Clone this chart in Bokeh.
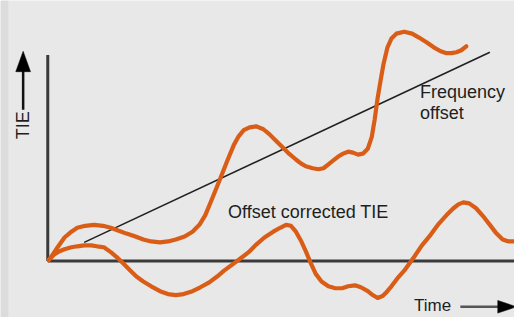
from bokeh.plotting import figure
from bokeh.models import Range1d, Label, BoxAnnotation
from bokeh.embed import file_html
from bokeh.resources import INLINE

# --- data (time units, TIE units) ---
tie_raw_t = [1, 4, 10, 17, 24, 30, 38, 47, 56, 64, 72, 80, 89, 97, 105, 114, 122, 130, 139, 147,
             154, 160, 167, 175, 182, 189, 194, 199, 205, 212, 219, 225, 232, 239, 245, 252, 257,
             262, 269, 275, 280, 285, 290, 295, 300, 305, 310, 315, 320, 325, 329, 332, 335, 338,
             341, 345, 349, 354, 362, 370, 377, 385, 392, 399, 405, 410, 415, 420, 425]
tie_raw_v = [1, 5, 14, 24, 30, 34, 36, 37, 36, 34, 31, 28, 25, 22, 20, 19, 20, 22, 25, 30,
             37, 47, 64, 84, 102, 119, 128, 134, 137, 138, 135, 130, 123, 116, 110, 104, 100,
             97, 95, 94, 95, 99, 103, 107, 110, 112, 111, 109, 110, 115, 127, 145, 167, 185,
             202, 219, 228, 233, 235, 233, 229, 224, 219, 215, 213, 213, 214, 216, 220]

tie_corr_t = [1, 7, 12, 17, 24, 30, 37, 44, 50, 57, 64, 70, 77, 84, 90, 97, 105, 114, 122, 130,
              138, 147, 155, 164, 172, 179, 187, 195, 204, 212, 220, 229, 236, 242, 247, 252, 257,
              262, 267, 272, 278, 285, 292, 299, 305, 312, 318, 325, 330, 335, 340, 344, 349, 355,
              362, 372, 380, 389, 397, 405, 412, 417, 422, 428, 435, 442, 449, 455, 462, 468, 474, 484]
tie_corr_v = [1, 7, 10, 12, 14, 15, 16, 16, 15, 14, 9, 4, -3, -10, -16, -21, -26, -31, -34, -35,
              -34, -31, -27, -22, -16, -10, -4, 2, 9, 17, 24, 30, 34, 37, 36, 30, 21,
              10, -2, -13, -21, -26, -28, -28, -26, -25, -27, -31, -35, -38, -36, -32, -26, -18,
              -10, 4, 16, 27, 38, 47, 54, 58, 60, 59, 54, 46, 37, 29, 22, 20, 20, 20]

freq_t = [37, 449]
freq_v = [19, 214]

ORANGE = "#d95d16"
AXIS = "#3a3a3a"
TXT = "#1e1e1e"
FONT = "Liberation Sans"
FS = "18px"

p = figure(width=514, height=317, output_backend="svg", toolbar_location=None,
           x_range=Range1d(-48, 474), y_range=Range1d(-58, 267),
           min_border=0, background_fill_color="#e8e8e8", border_fill_color="#e8e8e8",
           outline_line_color=None)
p.axis.visible = False
p.grid.visible = False

# darker strip at the left edge
p.add_layout(BoxAnnotation(right=-40, fill_color="#dcdcdc", fill_alpha=1, line_alpha=0))

# axes lines
p.line([0, 0], [0, 211], line_color=AXIS, line_width=3)
p.line([0, 480], [0, 0], line_color=AXIS, line_width=3)

# frequency offset line
p.line(freq_t, freq_v, line_color="#202020", line_width=1.6)

# curves
p.line(tie_raw_t, tie_raw_v, line_color=ORANGE, line_width=4.2, line_join="round", line_cap="round")
p.line(tie_corr_t, tie_corr_v, line_color=ORANGE, line_width=4.2, line_join="round", line_cap="round")

# TIE arrow (vertical)
p.line([-25, -25], [155, 196], line_color="#111111", line_width=2.5)
p.patch([-32.5, -17.5, -25], [194, 194, 215], fill_color="#000000", line_color="#000000", line_width=0.5)
p.add_layout(Label(x=-25, y=139, text="TIE", angle=90, angle_units="deg", text_align="center",
                   text_baseline="middle", text_font=FONT, text_font_size=FS, text_color=TXT))

# Time arrow (horizontal)
p.line([419, 458], [-47, -47], line_color="#555555", line_width=2.5)
p.patch([457, 457, 476], [-40.5, -53.5, -47], fill_color="#000000", line_color="#000000", line_width=0.5)
p.add_layout(Label(x=372, y=-46, text="Time", text_align="left", text_baseline="middle",
                   text_font=FONT, text_font_size="17px", text_color=TXT))

# annotations
p.add_layout(Label(x=183, y=50, text="Offset corrected TIE", text_align="left", text_baseline="middle",
                   text_font=FONT, text_font_size=FS, text_color=TXT))
p.add_layout(Label(x=378, y=173, text="Frequency", text_align="left", text_baseline="middle",
                   text_font=FONT, text_font_size=FS, text_color=TXT))
p.add_layout(Label(x=378, y=152, text="offset", text_align="left", text_baseline="middle",
                   text_font=FONT, text_font_size=FS, text_color=TXT))

html = file_html(p, INLINE)
html = html.replace("<body>", '<body style="background: #e8e8e8;">', 1)
open("out.html", "w").write(html)
